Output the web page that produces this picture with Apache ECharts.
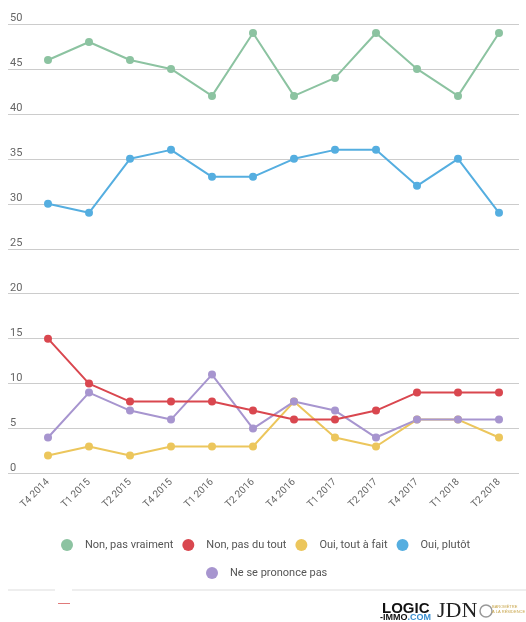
<!DOCTYPE html>
<html>
<head>
<meta charset="utf-8">
<style>
  html, body { margin: 0; padding: 0; background: #ffffff; }
  #chart { width: 526px; height: 622px; }
</style>
<script src="https://cdn.jsdelivr.net/npm/echarts@6/dist/echarts.min.js"></script>
</head>
<body>
<div id="chart"></div>
<script>
// Quarterly survey results (%)
const quarters = ['T4 2014', 'T1 2015', 'T2 2015', 'T4 2015', 'T1 2016', 'T2 2016',
                  'T4 2016', 'T1 2017', 'T2 2017', 'T4 2017', 'T1 2018', 'T2 2018'];
const nonPasVraiment = [46, 48, 46, 45, 42, 49, 42, 44, 49, 45, 42, 49];
const nonPasDuTout   = [15, 10, 8, 8, 8, 7, 6, 6, 7, 9, 9, 9];
const ouiToutAFait   = [2, 3, 2, 3, 3, 3, 8, 4, 3, 6, 6, 4];
const ouiPlutot      = [30, 29, 35, 36, 33, 33, 35, 36, 36, 32, 35, 29];
const nePrononcePas  = [4, 9, 7, 6, 11, 5, 8, 7, 4, 6, 6, 6];

const FONT = 'Roboto, "Noto Sans", sans-serif';
const colors = {
  green: '#8cc3a1',
  red: '#d9474f',
  yellow: '#ecc65c',
  blue: '#55aee0',
  purple: '#a795cf'
};

function lineSeries(name, data, color) {
  return {
    name: name,
    type: 'line',
    xAxisIndex: 1,
    yAxisIndex: 1,
    data: data,
    symbol: 'circle',
    symbolSize: 8,
    lineStyle: { color: color, width: 2 },
    itemStyle: { color: color },
    emphasis: { disabled: true },
    animation: false
  };
}

const legendText = { fontSize: 11, color: '#555555', fontFamily: FONT, padding: [0, 0, 0, 7] };

const chart = echarts.init(document.getElementById('chart'), null, { renderer: 'canvas' });
chart.setOption({
  backgroundColor: '#ffffff',
  textStyle: { fontFamily: FONT },
  grid: [
    // background grid: full-width horizontal rules and value labels
    { left: 8, right: 7, top: 24, bottom: 148.5 },
    // plotting grid for the category axis
    { left: 27.5, right: 6.5, top: 24, bottom: 148.5 }
  ],
  xAxis: [
    { gridIndex: 0, type: 'value', min: 0, max: 1, show: false },
    {
      gridIndex: 1,
      type: 'category',
      data: quarters,
      boundaryGap: true,
      axisLine: { show: false },
      axisTick: { show: false },
      axisLabel: {
        rotate: 45,
        margin: 7,
        interval: 0,
        fontSize: 10,
        color: '#666666',
        fontFamily: FONT
      }
    }
  ],
  yAxis: [
    {
      gridIndex: 0,
      type: 'value',
      min: 0,
      max: 50,
      interval: 5,
      axisLine: { show: false },
      axisTick: { show: false },
      splitLine: { lineStyle: { color: '#cccccc', width: 1 } },
      axisLabel: {
        inside: true,
        margin: 2,
        verticalAlign: 'bottom',
        lineHeight: 11,
        padding: 0,
        fontSize: 11,
        color: '#666666',
        fontFamily: FONT
      }
    },
    { gridIndex: 1, type: 'value', min: 0, max: 50, show: false }
  ],
  legend: [
    {
      data: ['Non, pas vraiment', 'Non, pas du tout', 'Oui, tout à fait', 'Oui, plutôt'],
      left: 56,
      top: 534,
      icon: 'circle',
      itemWidth: 12,
      itemHeight: 12,
      itemGap: 9,
      selectedMode: false,
      textStyle: legendText
    },
    {
      data: ['Ne se prononce pas'],
      left: 201,
      top: 562,
      icon: 'circle',
      itemWidth: 12,
      itemHeight: 12,
      selectedMode: false,
      textStyle: legendText
    }
  ],
  graphic: [
    { type: 'line', shape: { x1: 8, y1: 590, x2: 55, y2: 590 }, style: { stroke: '#dddddd', lineWidth: 1 } },
    { type: 'line', shape: { x1: 72, y1: 590, x2: 526, y2: 590 }, style: { stroke: '#dddddd', lineWidth: 1 } },
    { type: 'line', shape: { x1: 58, y1: 603.5, x2: 70, y2: 603.5 }, style: { stroke: '#e07a7a', lineWidth: 1 } },
    {
      type: 'text', left: 382, top: 601,
      style: { text: 'LOGIC', font: 'bold 15px "Liberation Sans", Arial, sans-serif', fill: '#111111' }
    },
    {
      type: 'text', left: 380, top: 613,
      style: {
        text: '{a|-IMMO}{b|.COM}',
        rich: {
          a: { font: 'bold 9px "Liberation Sans", Arial, sans-serif', fill: '#111111' },
          b: { font: 'bold 9px "Liberation Sans", Arial, sans-serif', fill: '#3a8fd0' }
        }
      }
    },
    {
      type: 'text', left: 437, top: 600,
      style: { text: 'JDN', font: '22px "Liberation Serif", "DejaVu Serif", serif', fill: '#222222' }
    },
    {
      type: 'circle', shape: { cx: 486, cy: 611, r: 6 },
      style: { fill: 'none', stroke: '#999999', lineWidth: 1.5 }
    },
    {
      type: 'text', left: 492, top: 604,
      style: { text: 'BAROMÈTRE\nÀ LA RÉSIDENCE', font: '4px sans-serif', fill: '#c8a54a', lineHeight: 5 }
    }
  ],
  series: [
    lineSeries('Non, pas vraiment', nonPasVraiment, colors.green),
    lineSeries('Oui, plutôt', ouiPlutot, colors.blue),
    lineSeries('Oui, tout à fait', ouiToutAFait, colors.yellow),
    lineSeries('Ne se prononce pas', nePrononcePas, colors.purple),
    lineSeries('Non, pas du tout', nonPasDuTout, colors.red)
  ]
});
</script>
</body>
</html>
